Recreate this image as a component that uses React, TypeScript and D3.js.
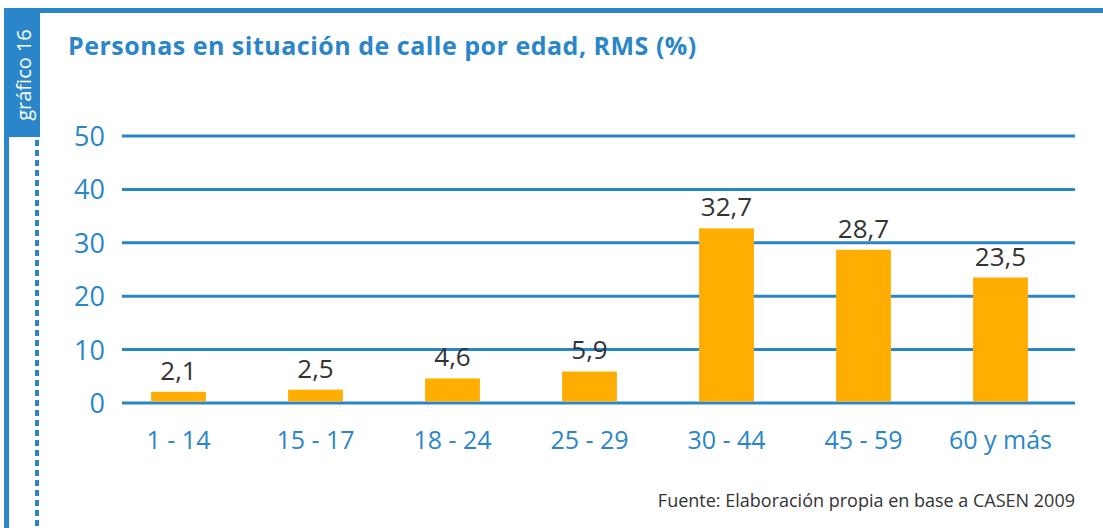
import React from "react";
import * as d3 from "d3";

const categories = ["1 - 14", "15 - 17", "18 - 24", "25 - 29", "30 - 44", "45 - 59", "60 y más"];
const values = [2.1, 2.5, 4.6, 5.9, 32.7, 28.7, 23.5];
const yTicks = [0, 10, 20, 30, 40, 50];

const BLUE = "#2a86c8";
const BAR = "#ffad00";
const FONT = "'Open Sans', sans-serif";

const App = () => {
  const width = 1103;
  const height = 528;

  const x = d3.scaleBand<string>().domain(categories).range([110, 1069]).paddingInner(0.6).paddingOuter(0.3);
  const y = d3.scaleLinear().domain([0, 50]).range([403, 136]);
  const fmt = (v: number) => d3.format(".1f")(v).replace(".", ",");

  return (
    <svg width={width} height={height} style={{ position: "absolute", left: 0, top: 0, background: "#fff" }}>
      {/* frame */}
      <rect x={4} y={8} width={width - 4} height={5} fill={BLUE} />
      <rect x={4} y={8} width={5} height={height - 8} fill={BLUE} />
      <rect x={4} y={8} width={36} height={129} fill={BLUE} />
      <text
        transform="translate(31,75) rotate(-90)"
        textAnchor="middle"
        fill="#fff"
        fontFamily={FONT}
        fontSize={20}
      >
        gráfico 16
      </text>
      <line x1={37} x2={37} y1={140} y2={height} stroke={BLUE} strokeWidth={4} strokeDasharray="6,4" />

      <text x={68} y={55} fill={BLUE} fontFamily={FONT} fontWeight="bold" fontSize={25} letterSpacing={0.5}>
        Personas en situación de calle por edad, RMS (%)
      </text>

      {/* grid + y labels */}
      {yTicks.map((t) => (
        <g key={t}>
          <line x1={122} x2={1075} y1={y(t)} y2={y(t)} stroke={BLUE} strokeWidth={3} />
          <text x={105} y={y(t) + 10} textAnchor="end" fill={BLUE} fontFamily={FONT} fontSize={27}>
            {t}
          </text>
        </g>
      ))}

      {/* bars */}
      {categories.map((c, i) => {
        const bx = x(c)!;
        const cx = bx + x.bandwidth() / 2;
        return (
          <g key={c}>
            <rect x={bx} y={y(values[i])} width={x.bandwidth()} height={y(0) - y(values[i]) - 1.5} fill={BAR} />
            <text x={cx} y={y(values[i]) - 12} textAnchor="middle" fill="#333" fontFamily={FONT} fontSize={26}>
              {fmt(values[i])}
            </text>
            <text x={cx} y={449} textAnchor="middle" fill={BLUE} fontFamily={FONT} fontSize={25}>
              {c}
            </text>
          </g>
        );
      })}

      <text x={1075} y={507} textAnchor="end" fill="#333" fontFamily={FONT} fontSize={18}>
        Fuente: Elaboración propia en base a CASEN 2009
      </text>
    </svg>
  );
};

export default App;
